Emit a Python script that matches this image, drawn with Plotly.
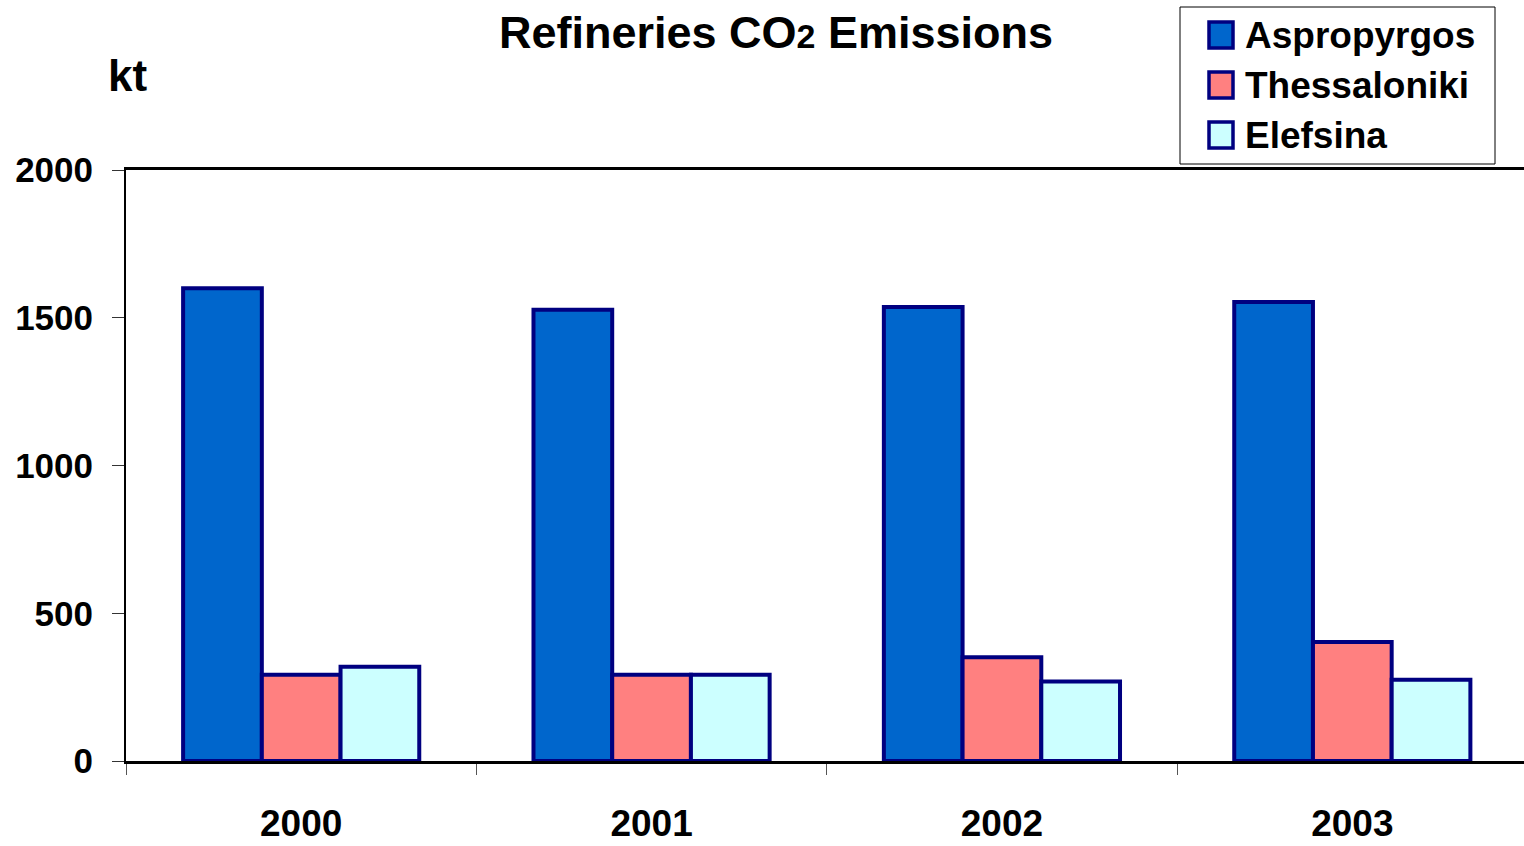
import plotly.graph_objects as go

# Annual CO2 emissions per refinery (kt)
years = ["2000", "2001", "2002", "2003"]
refineries = ["Aspropyrgos", "Thessaloniki", "Elefsina"]
aspropyrgos = [1600, 1527, 1536, 1553]
thessaloniki = [292, 292, 351, 403]
elefsina = [319, 292, 269, 275]
fill_colors = ["#0066CC", "#FF8080", "#CCFFFF"]
y_ticks = [0, 500, 1000, 1500, 2000]

OUTLINE = "#000080"
FONT = "Liberation Sans, Arial, sans-serif"

W, H = 1524, 846
ML, MR, MT, MB = 126, 0, 170, 85

fig = go.Figure()
for name, vals, col in zip(refineries, [aspropyrgos, thessaloniki, elefsina], fill_colors):
    fig.add_trace(go.Bar(
        x=years, y=vals, name=name,
        marker=dict(color=col, line=dict(color=OUTLINE, width=4)),
        showlegend=False,
    ))

# Hand-built legend box with large square swatches
pw = W - ML - MR
ph = H - MT - MB
def px_x(x):
    return (x - ML) / pw
def px_y(y):
    return (H - MB - y) / ph

shapes = [dict(type="rect", xref="paper", yref="paper",
               x0=px_x(1180), x1=px_x(1495), y0=px_y(164), y1=px_y(7),
               line=dict(color="#000000", width=1), fillcolor="white", layer="above")]
annotations = []
row_centers = [35, 85, 135]
for name, col, cy in zip(refineries, fill_colors, row_centers):
    shapes.append(dict(type="rect", xref="paper", yref="paper",
                       x0=px_x(1209), x1=px_x(1233), y0=px_y(cy + 13), y1=px_y(cy - 13),
                       line=dict(color=OUTLINE, width=3.5), fillcolor=col, layer="above"))
    annotations.append(dict(text="<b>%s</b>" % name, xref="paper", yref="paper",
                            x=px_x(1243), y=px_y(cy), xanchor="left", yanchor="middle",
                            showarrow=False, font=dict(family=FONT, size=37, color="black")))

# Unit label
annotations.append(dict(text="<b>kt</b>", xref="paper", yref="paper",
                        x=px_x(106), y=px_y(76), xanchor="left", yanchor="middle",
                        showarrow=False, font=dict(family=FONT, size=44, color="black")))

fig.update_layout(
    width=W, height=H,
    margin=dict(l=ML, r=MR, t=MT, b=MB, pad=0),
    paper_bgcolor="white", plot_bgcolor="white",
    barmode="group", bargap=0.326, bargroupgap=0,
    title=dict(text="<b>Refineries CO<span style='font-size:34px'>2</span> Emissions</b>",
               x=776 / W, xanchor="center", y=1 - 32 / H, yanchor="middle",
               font=dict(family=FONT, size=45, color="black")),
    shapes=shapes, annotations=annotations,
    xaxis=dict(range=[-0.5, 3.49], showgrid=False, zeroline=False,
               showline=True, linecolor="black", linewidth=3, mirror=True,
               ticks="outside", tickson="boundaries", ticklen=11, tickcolor="#555555", tickwidth=1,
               tickfont=dict(family=FONT, size=37, color="black", weight="bold"),
               ticklabelstandoff=28),
    yaxis=dict(range=[0, 2000], tickvals=y_ticks, showgrid=False, zeroline=False,
               showline=True, linecolor="black", linewidth=2,
               ticks="outside", ticklen=12, tickcolor="#333333", tickwidth=1,
               tickfont=dict(family=FONT, size=35, color="black", weight="bold"),
               ticklabelstandoff=12),
)

fig.write_html("out.html")
